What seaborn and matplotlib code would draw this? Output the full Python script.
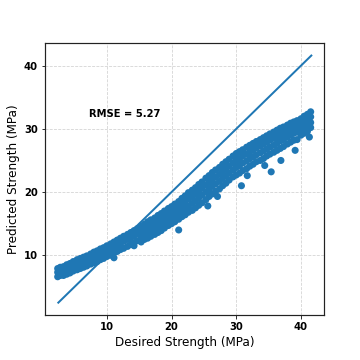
import pandas as pd
import matplotlib
matplotlib.use('Agg')
import matplotlib.pyplot as plt
import seaborn as sns

# values (desired strength -> predicted strengths)
desired = [2.4, 2.8, 3.3, 3.8, 4.3, 4.8, 5.4, 5.9, 6.4, 6.9, 7.5, 8.0, 8.5, 9.0,
           9.5, 10.0, 10.6, 11.1, 11.6, 12.1, 12.6, 13.2, 13.7, 14.2, 14.7, 15.3,
           15.8, 16.3, 16.8, 17.4, 17.9, 18.4, 18.9, 19.5, 20.0, 20.5, 21.1, 21.6,
           22.1, 22.6, 23.2, 23.7, 24.2, 24.7, 25.3, 25.6, 25.8, 26.3, 26.8, 27.1,
           27.4, 27.9, 28.4, 28.9, 29.5, 30.0, 30.5, 30.8, 31.0, 31.6, 31.7, 32.1,
           32.6, 33.1, 33.7, 34.2, 34.4, 34.7, 35.2, 35.4, 35.8, 36.3, 36.8, 36.9,
           37.3, 37.9, 38.4, 38.9, 39.1, 39.4, 40.0, 40.5, 41.0, 41.3, 41.5]
predicted = [
    [7.9, 7.3, 6.6], [8.1, 7.4, 6.8], [8.2, 7.5, 6.8], [8.5, 7.8, 7.0],
    [8.7, 8.0, 7.2], [9.0, 8.3, 7.5], [9.3, 8.5, 7.7], [9.5, 8.7, 7.9],
    [9.7, 8.9, 8.1], [9.9, 9.1, 8.3], [10.2, 9.4, 8.6], [10.5, 9.7, 8.8],
    [10.7, 9.9, 9.0], [11.0, 10.2, 9.3], [11.2, 10.4, 9.5], [11.5, 10.7, 9.8],
    [11.8, 11.0, 10.0], [12.1, 11.3, 10.4, 9.6], [12.4, 11.6, 10.6],
    [12.7, 11.9, 10.9], [13.0, 12.2, 11.1], [13.3, 12.5, 11.4],
    [13.6, 12.8, 11.7], [13.9, 13.1, 12.0, 11.5], [14.2, 13.4, 12.3],
    [14.6, 13.7, 12.9, 12.1], [14.9, 14.1, 13.2, 12.5],
    [15.3, 14.4, 13.5, 12.7], [15.6, 14.7, 13.8, 13.0],
    [15.9, 15.0, 14.1, 13.3], [16.3, 15.4, 14.5, 13.6],
    [16.6, 15.7, 14.8, 13.9], [17.0, 16.1, 15.2, 14.3],
    [17.4, 16.5, 15.5, 14.7], [17.7, 16.8, 15.8, 15.0],
    [18.1, 17.2, 16.2, 15.3], [18.5, 17.6, 16.6, 15.7, 14.0],
    [19.0, 18.0, 17.0, 16.1], [19.4, 18.4, 17.4, 16.4],
    [19.9, 18.9, 17.8, 16.8], [20.3, 19.3, 18.2, 17.1],
    [20.7, 19.7, 18.6, 17.5], [21.2, 20.2, 19.1, 17.9],
    [21.6, 20.6, 19.5, 18.3], [22.2, 21.1, 20.0, 18.8], [17.8],
    [22.6, 21.6, 20.4, 19.3], [23.1, 22.0, 20.9, 19.7],
    [23.5, 22.4, 21.3, 20.1], [19.3], [23.9, 22.8, 21.7, 20.5],
    [24.4, 23.3, 22.2, 21.0], [24.8, 23.7, 22.6, 21.4],
    [25.2, 24.1, 23.0, 21.9], [25.7, 24.6, 23.5, 22.4],
    [26.1, 25.0, 23.9, 22.7], [26.4, 25.3, 24.2, 23.0], [21.0],
    [26.7, 25.7, 24.6, 23.4], [27.1, 26.0, 24.9, 23.7], [22.6],
    [27.4, 26.4, 25.3, 24.1], [27.7, 26.7, 25.6, 24.4],
    [28.0, 27.0, 25.9, 24.8], [28.3, 27.3, 26.2, 25.0],
    [28.6, 27.6, 26.5, 25.3], [24.2], [28.9, 27.9, 26.8, 25.7],
    [29.2, 28.2, 27.1, 26.0], [23.2], [29.5, 28.5, 27.4, 26.3],
    [29.8, 28.8, 27.7, 26.6], [30.1, 29.1, 28.1, 26.9], [25.0],
    [30.3, 29.3, 28.3, 27.2], [30.6, 29.7, 28.7, 27.6],
    [30.9, 30.0, 29.0, 27.9], [31.1, 30.2, 29.3, 28.2], [26.6],
    [31.3, 30.4, 29.5, 28.3], [31.6, 30.7, 29.9, 29.0],
    [32.0, 31.1, 30.2, 29.3], [32.3, 31.4, 30.5, 29.6], [28.7],
    [32.7, 31.9, 31.0, 30.2]]
line_x = [2.5, 41.6]
rmse_text = 'RMSE = 5.27'

df = pd.DataFrame({'desired': desired, 'predicted': predicted}).explode('predicted')
df['predicted'] = df['predicted'].astype(float)

fig, ax = plt.subplots(figsize=(5, 5), dpi=72)
plt.subplots_adjust(left=0.125, right=0.9, top=0.88, bottom=0.125)

sns.scatterplot(data=df, x='desired', y='predicted', s=50, color='#1f77b4',
                edgecolor='none', linewidth=0, ax=ax, zorder=3)
sns.lineplot(x=line_x, y=line_x, color='#1f77b4', linewidth=2, ax=ax, zorder=4)

ax.text(7.2, 32.4, rmse_text, fontsize=10, fontweight='bold', va='center')

ax.set_xlabel('Desired Strength (MPa)', fontsize=12)
ax.set_ylabel('Predicted Strength (MPa)', fontsize=12)
ax.set_xticks([10, 20, 30, 40])
ax.set_yticks([10, 20, 30, 40])
for lab in ax.get_xticklabels() + ax.get_yticklabels():
    lab.set_fontweight('bold')
    lab.set_fontsize(10)
ax.grid(True, linestyle='--', color='lightgrey', linewidth=0.8)
ax.set_axisbelow(True)
for sp in ax.spines.values():
    sp.set_linewidth(1.2)
    sp.set_color('#222222')

plt.savefig('out.png', dpi=72)
